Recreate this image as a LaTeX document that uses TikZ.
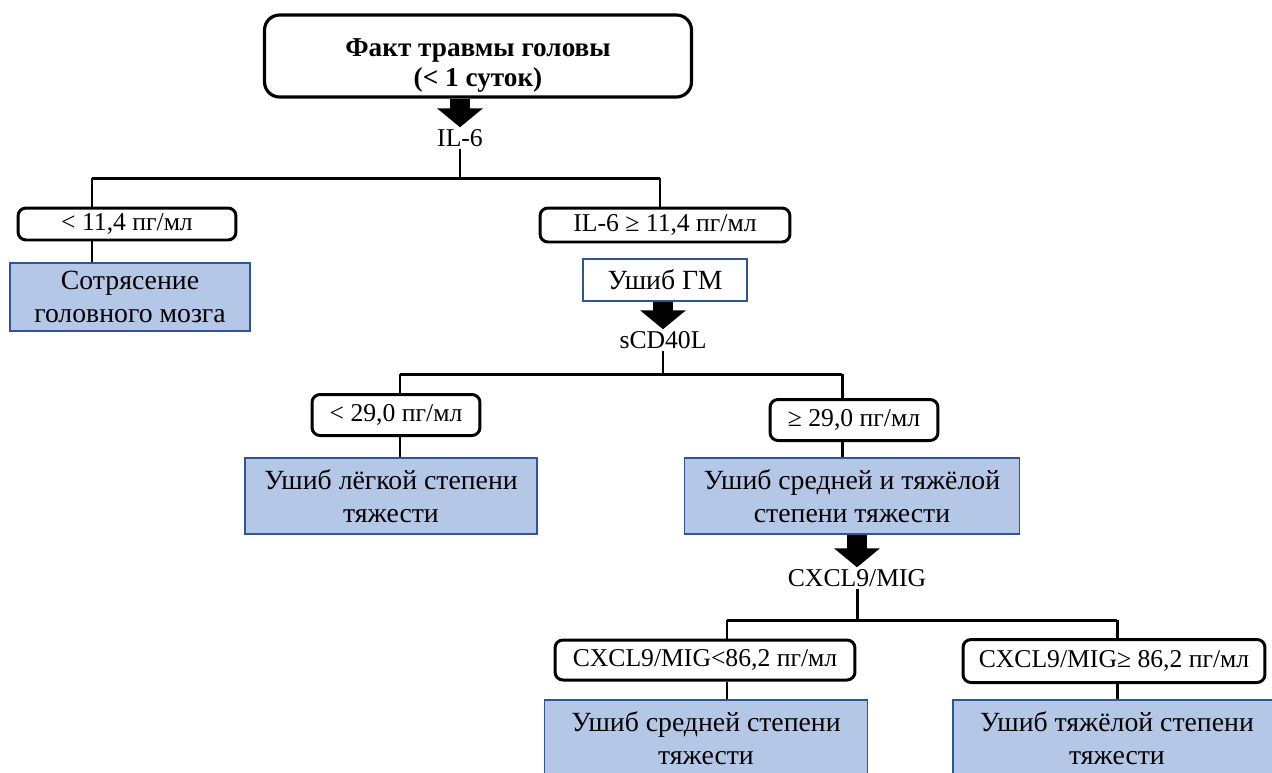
\documentclass[tikz,border=0pt]{standalone}
\usepackage{fontspec}
\setmainfont{Liberation Serif}
\usepackage{tikz}
\usetikzlibrary{arrows.meta}
\definecolor{boxblue}{HTML}{B4C7E7}
\definecolor{edgeblue}{HTML}{2F5597}
\tikzstyle{cond}=[draw=black, line width=1.7pt, rounded corners=0.16cm, fill=white, font=\fontsize{14.6}{17}\selectfont, inner sep=0pt]
\tikzstyle{diag}=[draw=edgeblue, line width=1pt, fill=boxblue, align=center, font=\fontsize{15.8}{18.5}\selectfont, inner sep=0pt]
\tikzstyle{marker}=[font=\fontsize{14.6}{17}\selectfont, inner sep=1pt]
\tikzstyle{link}=[line width=1.7pt]
\tikzstyle{bigarrow}=[line width=0.4cm, -{Triangle[width=0.9cm,length=0.38cm]}]

\begin{document}
\begin{tikzpicture}[x=0.02cm, y=-0.02cm]
          \path[use as bounding box, clip] (0,0) rectangle (1272,772);
          % start
          \node[draw, line width=1.8pt, rounded corners=0.3cm, inner sep=0pt, minimum width=8.54cm, minimum height=1.64cm, align=center, font=\bfseries\fontsize{15.5}{17.5}\selectfont] (trauma) at (478,56){\rule{0pt}{21pt}Факт травмы головы\\(< 1 суток)};
          \node[marker] (il6) at (460,138){IL-6};
          \draw[bigarrow](trauma.south -| il6) -- (il6.north);
          % IL-6 split
          \coordinate (j1l) at (92,178);
          \coordinate (j1r) at (660,178);
          \node[cond, minimum width=4.36cm, minimum height=0.64cm] (il6lo) at (127,224){< 11,4 пг/мл};
          \node[cond, minimum width=5.0cm, minimum height=0.68cm] (il6hi) at (665,225){IL-6 ≥ 11,4 пг/мл};
          \node[diag, minimum width=4.8cm, minimum height=1.36cm] (concussion) at (130,297){Сотрясение\\головного мозга};
          \node[diag, fill=white, minimum width=3.28cm, minimum height=0.84cm] (contusion) at (665,280){Ушиб ГМ};
          \draw[link](il6) -- (il6 |- j1l);
          \draw[link](j1l) -- (j1r);
          \draw[link](j1l) -- (j1l |- il6lo.north);
          \draw[link](j1l |- il6lo.south) -- (j1l |- concussion.north);
          \draw[link](j1r) -- (j1r |- il6hi.north);
          % sCD40L split
          \node[marker] (scd) at (663,340){sCD40L};
          \draw[bigarrow](contusion.south -| scd) -- (scd.north);
          \coordinate (j2l) at (400,374);
          \coordinate (j2r) at (842,374);
          \node[cond, minimum width=3.36cm, minimum height=0.82cm] (scdlo) at (396,415){< 29,0 пг/мл};
          \node[cond, minimum width=3.36cm, minimum height=0.82cm] (scdhi) at (854,420){≥ 29,0 пг/мл};
          \node[diag, minimum width=5.84cm, minimum height=1.52cm] (mild) at (391,496){Ушиб лёгкой степени\\тяжести};
          \node[diag, minimum width=6.7cm, minimum height=1.52cm] (modsev) at (852,496){Ушиб средней и тяжёлой\\степени тяжести};
          \draw[link](scd) -- (scd |- j2l);
          \draw[link](j2l) -- (j2r);
          \draw[link](j2l) -- (j2l |- scdlo.north);
          \draw[link](j2l |- scdlo.south) -- (j2l |- mild.north);
          \draw[link](j2r) -- (j2r |- scdhi.north);
          \draw[link](j2r |- scdhi.south) -- (j2r |- modsev.north);
          % CXCL9 split
          \node[marker] (cxcl) at (857,578){CXCL9/MIG};
          \draw[bigarrow](modsev.south -| cxcl) -- (cxcl.north);
          \coordinate (j3l) at (727,620);
          \coordinate (j3r) at (1117,620);
          \node[cond, minimum width=6.0cm, minimum height=0.8cm] (cxcllo) at (705,660){CXCL9/MIG<86,2 пг/мл};
          \node[cond, minimum width=6.04cm, minimum height=0.86cm] (cxclhi) at (1114,661){CXCL9/MIG≥ 86,2 пг/мл};
          \node[diag, minimum width=6.46cm, minimum height=1.52cm] (moderate) at (706,738){Ушиб средней степени\\тяжести};
          \node[diag, minimum width=6.56cm, minimum height=1.52cm] (severe) at (1117,738){Ушиб тяжёлой степени\\тяжести};
          \draw[link](cxcl) -- (cxcl |- j3l);
          \draw[link](j3l) -- (j3r);
          \draw[link](j3l) -- (j3l |- cxcllo.north);
          \draw[link](j3l |- cxcllo.south) -- (j3l |- moderate.north);
          \draw[link](j3r) -- (j3r |- cxclhi.north);
          \draw[link](j3r |- cxclhi.south) -- (j3r |- severe.north);
        \end{tikzpicture}
\end{document}
